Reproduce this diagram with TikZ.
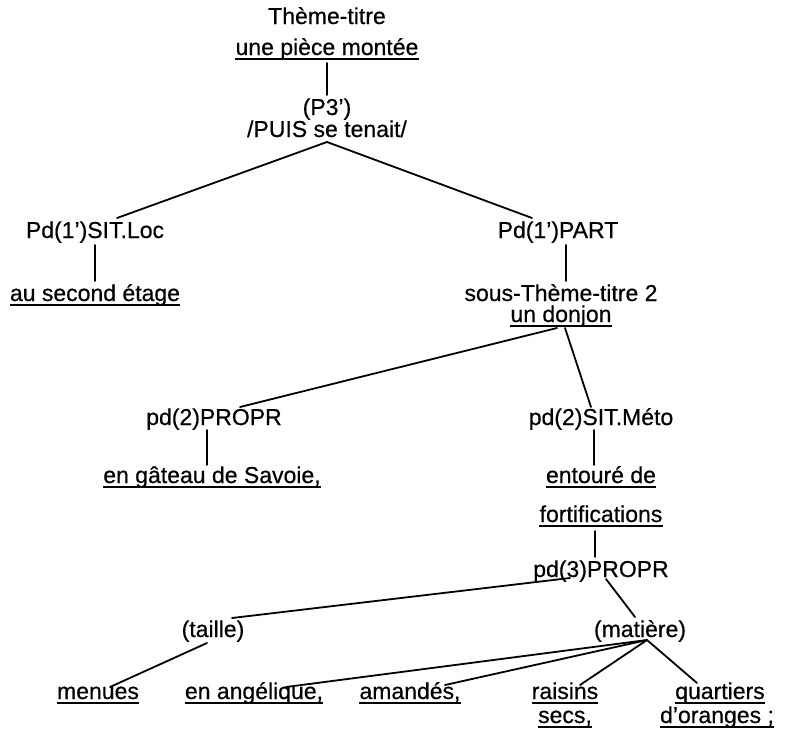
\documentclass[tikz,border=0pt]{standalone}
\usepackage{fontspec}
\setmainfont{Liberation Sans}[UprightFeatures={FakeBold=0.5}]
\begin{document}
\begin{tikzpicture}[x=1pt,y=-1pt,
  lbl/.style={inner sep=0pt,anchor=base,font=\fontsize{23}{27}\selectfont},
  conn/.style={line width=1.8pt,line cap=round},
  ulline/.style={line width=1.6pt}]
\useasboundingbox (0,0) rectangle (787,737);
\newcommand\ulnode[1]{\draw[ulline] ([yshift=-4pt]#1.base west) -- ([yshift=-4pt]#1.base east);}
% nodes
\node[lbl] (tt) at (327,24) {Thème-titre};
\node[lbl] (upm) at (327,55) {une pièce montée};
\node[lbl] (p3) at (327,115) {(P3’)};
\node[lbl] (puis) at (327,137) {/PUIS se tenait/};
\node[lbl] (sitloc) at (95,238) {Pd(1’)SIT.Loc};
\node[lbl] (part) at (558,238) {Pd(1’)PART};
\node[lbl] (second) at (95,301) {au second étage};
\node[lbl] (sous) at (561,301) {sous-Thème-titre 2};
\node[lbl] (donjon) at (561,322) {un donjon};
\node[lbl] (propr2) at (214,425) {pd(2)PROPR};
\node[lbl] (meto) at (601,425) {pd(2)SIT.Méto};
\node[lbl] (gateau) at (212,483) {en gâteau de Savoie,};
\node[lbl] (entoure) at (601,483) {entouré de};
\node[lbl] (fortif) at (601,522) {fortifications};
\node[lbl] (propr3) at (601,577) {pd(3)PROPR};
\node[lbl] (taille) at (213,637) {(taille)};
\node[lbl] (matiere) at (640,637) {(matière)};
\node[lbl] (menues) at (98,699) {menues};
\node[lbl] (angel) at (254,699) {en angélique,};
\node[lbl] (amandes) at (410,699) {amandés,};
\node[lbl] (raisins) at (565,699) {raisins};
\node[lbl] (quartiers) at (720,699) {quartiers};
\node[lbl] (secs) at (565,723) {secs,};
\node[lbl] (oranges) at (717,723) {d’oranges ;};
% underlines
\ulnode{upm}\ulnode{second}\ulnode{donjon}\ulnode{gateau}\ulnode{entoure}
\ulnode{fortif}\ulnode{menues}\ulnode{angel}\ulnode{amandes}\ulnode{raisins}
\ulnode{quartiers}\ulnode{secs}\ulnode{oranges}
% connectors
\draw[conn] ([shift={(0,8)}]upm.base) -- ([shift={(0,-20)}]p3.base);
\draw[conn] ([shift={(0,5)}]puis.base) -- ([shift={(22,-20)}]sitloc.base);
\draw[conn] ([shift={(0,5)}]puis.base) -- ([shift={(-26,-20)}]part.base);
\draw[conn] ([shift={(0,7)}]sitloc.base) -- ([shift={(0,-20)}]second.base);
\draw[conn] ([shift={(8,7)}]part.base) -- ([shift={(5,-20)}]sous.base);
\draw[conn] ([shift={(-4,6)}]donjon.base) -- ([shift={(26,-18)}]propr2.base);
\draw[conn] ([shift={(4,6)}]donjon.base) -- ([shift={(-10,-18)}]meto.base);
\draw[conn] ([shift={(-7,5)}]propr2.base) -- ([shift={(-5,-18)}]gateau.base);
\draw[conn] ([shift={(-7,5)}]meto.base) -- ([shift={(-7,-18)}]entoure.base);
\draw[conn] ([shift={(-6,9)}]fortif.base) -- ([shift={(-6,-20)}]propr3.base);
\draw[conn] ([shift={(-31,1)}]propr3.base) -- ([shift={(19,-19)}]taille.base);
\draw[conn] ([shift={(5,2)}]propr3.base) -- ([shift={(-5,-20)}]matiere.base);
\draw[conn] ([shift={(-6,6)}]taille.base) -- ([shift={(12,-12)}]menues.base);
\draw[conn] ([shift={(7,3)}]matiere.base) -- ([shift={(32,-12)}]angel.base);
\draw[conn] ([shift={(7,3)}]matiere.base) -- ([shift={(35,-14)}]amandes.base);
\draw[conn] ([shift={(7,3)}]matiere.base) -- ([shift={(15,-14)}]raisins.base);
\draw[conn] ([shift={(7,3)}]matiere.base) -- ([shift={(-23,-16)}]quartiers.base);
\end{tikzpicture}
\end{document}
